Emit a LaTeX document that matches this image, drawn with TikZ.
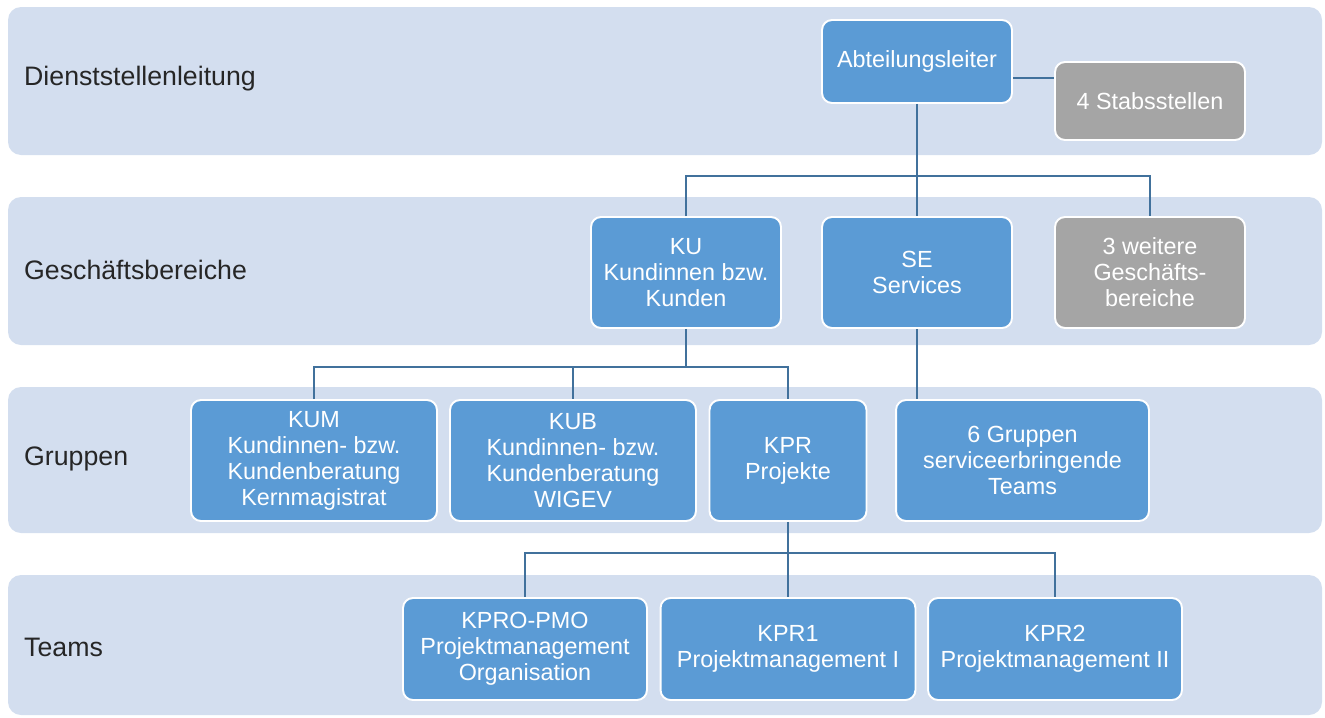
\documentclass[tikz,border=0pt]{standalone}
\usepackage{fontspec}
\setmainfont{Liberation Sans}
\usetikzlibrary{positioning, calc}
\definecolor{bandbg}{HTML}{D3DEEF}
\definecolor{unitblue}{HTML}{5B9BD5}
\definecolor{unitgrey}{HTML}{A5A5A5}
\definecolor{linkblue}{HTML}{41719C}
\begin{document}
\begin{tikzpicture}[x=0.02cm, y=-0.02cm,
  band/.style={fill=bandbg, rounded corners=0.26cm},
  level/.style={anchor=west, font=\fontsize{15.2}{18}\selectfont, text=black!85},
  unit/.style={draw=white, line width=1.1pt, fill=unitblue, rounded corners=0.2cm, text=white, align=center, inner sep=2pt, font=\fontsize{13.3}{14.8}\selectfont},
  other/.style={unit, fill=unitgrey},
  link/.style={draw=linkblue, line width=1.1pt}]
\useasboundingbox (0,0) rectangle (1325,717);
% levels
\fill[band] (8,7) rectangle (1322,155);
\fill[band] (8,197) rectangle (1322,345);
\fill[band] (8,387) rectangle (1322,533);
\fill[band] (8,575) rectangle (1322,715);
\node[level] (l1) at (18,79) {Dienststellenleitung};
\node[level] (l2) at (18,270) {Geschäftsbereiche};
\node[level] (l3) at (18,459) {Gruppen};
\node[level] (l4) at (18,647) {Teams};
% units
\node[unit, minimum width=3.8cm, minimum height=1.66cm] (abt) at (917,61.5) {Abteilungsleiter};
\node[other, minimum width=3.8cm, minimum height=1.56cm] (stab) at (1150,101) {4 Stabsstellen};
\node[unit, minimum width=3.8cm, minimum height=2.22cm] (ku) at (686,272.5) {KU\\Kundinnen bzw.\\Kunden};
\node[unit, minimum width=3.8cm, minimum height=2.22cm] (se) at (917,272.5) {SE\\Services};
\node[other, minimum width=3.8cm, minimum height=2.22cm] (weitere) at (1150,272.5) {3 weitere\\Geschäfts-\\bereiche};
\node[unit, minimum width=4.92cm, minimum height=2.42cm] (kum) at (314,460.5) {KUM\\Kundinnen- bzw.\\Kundenberatung\\Kernmagistrat};
\node[unit, minimum width=4.92cm, minimum height=2.42cm] (kub) at (573,460.5) {KUB\\Kundinnen- bzw.\\Kundenberatung\\WIGEV};
\node[unit, minimum width=3.14cm, minimum height=2.42cm] (kpr) at (788,460.5) {KPR\\Projekte};
\node[unit, minimum width=5.06cm, minimum height=2.42cm] (grp) at (1022.5,460.5) {6 Gruppen\\serviceerbringende\\Teams};
\node[unit, minimum width=4.88cm, minimum height=2.04cm] (pmo) at (525,649) {KPRO-PMO\\Projektmanagement\\Organisation};
\node[unit, minimum width=5.1cm, minimum height=2.04cm] (kpr1) at (788,649) {KPR1\\Projektmanagement I};
\node[unit, minimum width=5.08cm, minimum height=2.04cm] (kpr2) at (1055,649) {KPR2\\Projektmanagement II};
% connectors
\coordinate (bus1) at (917,176);
\coordinate (bus2) at (686,367);
\coordinate (bus3) at (788,553);
\draw[link] ([yshift=-0.33cm]abt.east) -- ([yshift=-0.33cm]abt.east -| stab.west);
\draw[link] (abt) -- (se);
\draw[link] (ku.north) |- (bus1) -| (weitere.north);
\draw[link] (ku) -- (bus2);
\draw[link] (kum.north) |- (bus2) -| (kpr.north);
\draw[link] (bus2 -| kub.north) -- (kub.north);
\draw[link] (se.south) -- (se.south |- grp.north);
\draw[link] (kpr) -- (kpr1);
\draw[link] (pmo.north) |- (bus3) -| (kpr2.north);
\end{tikzpicture}
\end{document}
